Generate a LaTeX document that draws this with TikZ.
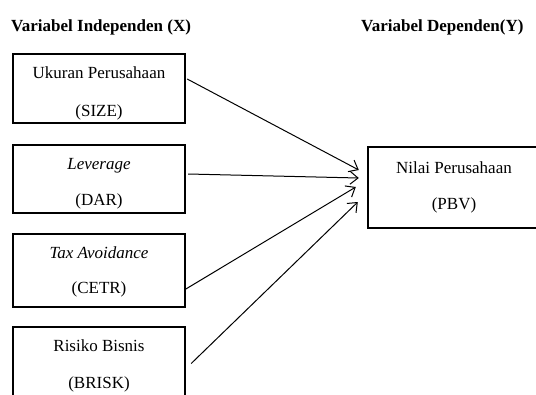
\documentclass[tikz,border=0pt]{standalone}
\usepackage{fontspec}
\setmainfont{Liberation Serif}
\usetikzlibrary{arrows.meta}
\begin{document}
\begin{tikzpicture}[x=1pt,y=-1pt,
  varbox/.style={draw, line width=2.4pt, minimum width=172pt, inner sep=0pt},
  lbl/.style={inner sep=0pt, anchor=base, font=\fontsize{17}{20}\selectfont},
  ttl/.style={inner sep=0pt, anchor=base west, font=\fontsize{17}{20}\selectfont\bfseries},
  arr/.style={line width=1pt, -{Straight Barb[length=8pt,width=13pt,line width=1pt]}}]
\useasboundingbox[fill=white] (0,0) rectangle (536,394);
\node[ttl] (tx) at (11,31) {Variabel Independen (X)};
\node[ttl] (ty) at (361,31) {Variabel Dependen(Y)};
% boxes
\node[varbox, minimum height=69pt] (size) at (99,88.5) {};
\node[varbox, minimum height=68pt] (dar) at (99,179) {};
\node[varbox, minimum height=73pt] (cetr) at (99,270.5) {};
\node[varbox, minimum height=75pt] (brisk) at (99,364.5) {};
\node[varbox, minimum width=178pt, minimum height=81pt] (pbv) at (457,187.5) {};
% labels
\node[lbl] (l1a) at (99,78) {Ukuran Perusahaan};
\node[lbl] (l1b) at (99,116) {(SIZE)};
\node[lbl] (l2a) at (99,169) {\itshape Leverage};
\node[lbl] (l2b) at (99,205) {(DAR)};
\node[lbl] (l3a) at (99,258) {\itshape Tax Avoidance};
\node[lbl] (l3b) at (99,293) {(CETR)};
\node[lbl] (l4a) at (99,351) {Risiko Bisnis};
\node[lbl] (l4b) at (99,388) {(BRISK)};
\node[lbl] (l5a) at (454,173) {Nilai Perusahaan};
\node[lbl] (l5b) at (454,209) {(PBV)};
% arrows
\draw[arr] ([xshift=1pt,yshift=9.5pt]size.east) -- ([xshift=-8pt,yshift=17.5pt]pbv.west);
\draw[arr] ([xshift=2pt,yshift=5pt]dar.east) -- ([xshift=-8pt,yshift=9.5pt]pbv.west);
\draw[arr] ([xshift=-2pt,yshift=-19.5pt]cetr.east) -- ([xshift=-11pt,yshift=0.5pt]pbv.west);
\draw[arr] ([xshift=5pt,yshift=1pt]brisk.east) -- ([xshift=-9pt,yshift=-14.5pt]pbv.west);
\end{tikzpicture}
\end{document}
